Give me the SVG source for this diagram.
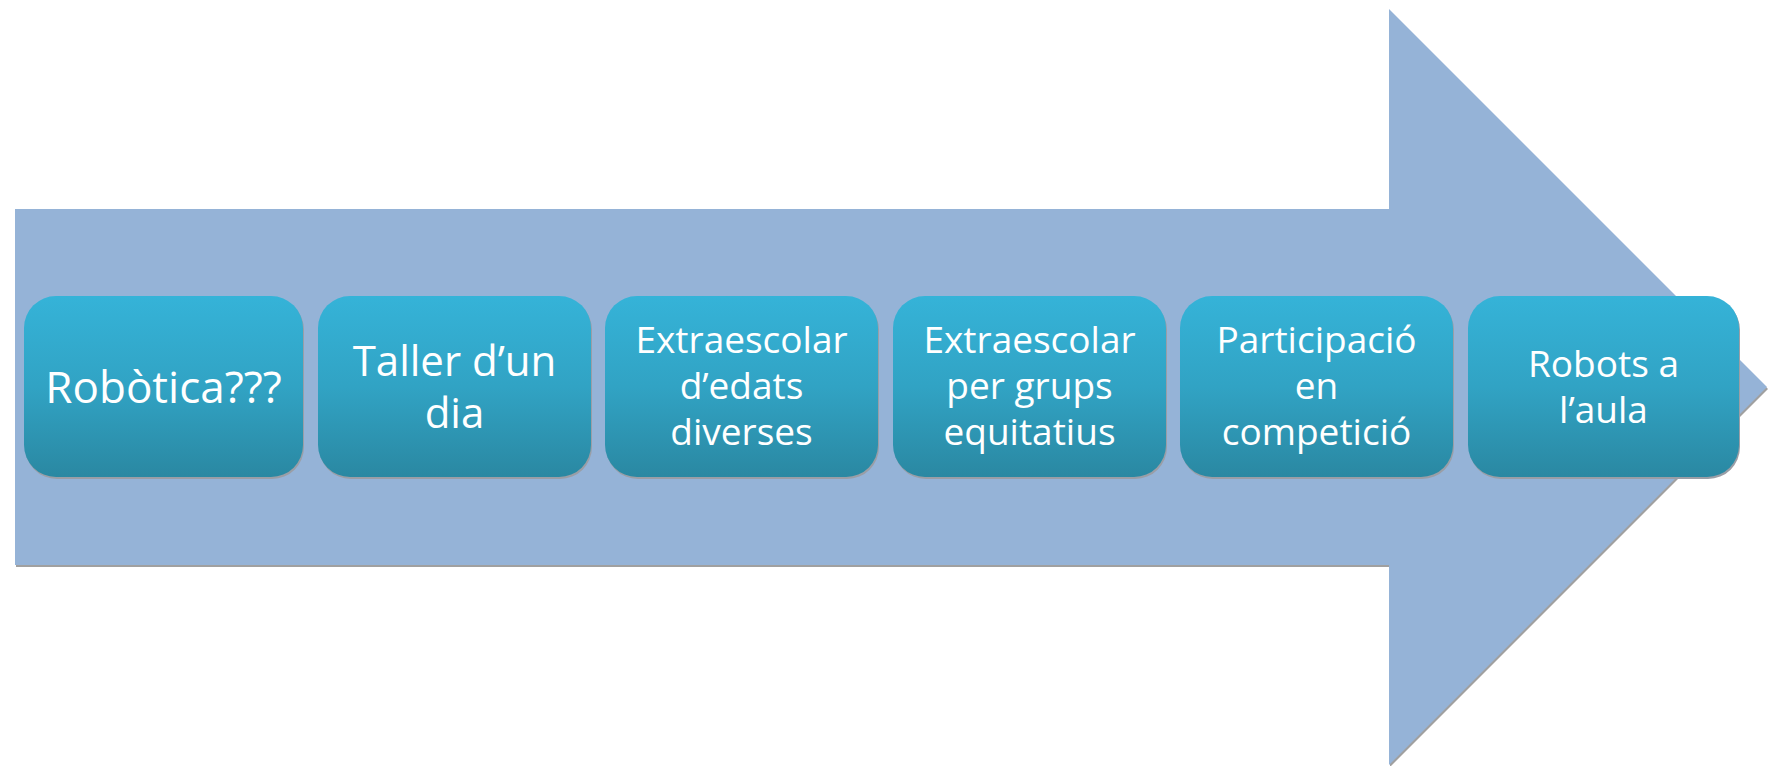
<svg xmlns="http://www.w3.org/2000/svg" width="1769" height="766" viewBox="0 0 1769 766">
<defs>
<linearGradient id="bg" x1="0" y1="0" x2="0" y2="1">
<stop offset="0" stop-color="#35B3D8"/>
<stop offset="0.5" stop-color="#31A3C4"/>
<stop offset="1" stop-color="#2A88A2"/>
</linearGradient>
</defs>
<style>
.box{fill:url(#bg);}
.sh{fill:#9a9ea6;}
.t{font-family:"Open Sans","Liberation Sans",sans-serif;fill:#ffffff;text-anchor:middle;}
.l{font-size:44px;}
.m{font-size:42px;}
.s{font-size:37px;}
</style>
<g id="arrow">
<polygon points="16,211 1390,211 1390,11 1768,389 1390,767 1390,567 16,567" fill="#a0a0a0"/>
<polygon points="15,209 1389,209 1389,9 1767,387 1389,765 1389,565 15,565" fill="#95B3D7"/>
</g>
<g id="connectors"/>
<g id="n1">
<rect class="sh" x="25" y="298" width="279" height="181" rx="32"/>
<rect class="box" x="24" y="296" width="279" height="181" rx="32"/>
<text class="t l" x="163.5" y="403">Robòtica???</text>
</g>
<g id="n2">
<rect class="sh" x="319" y="298" width="273" height="181" rx="32"/>
<rect class="box" x="318" y="296" width="273" height="181" rx="32"/>
<text class="t m" x="454.5" y="376">Taller d’un</text>
<text class="t m" x="454.5" y="428">dia</text>
</g>
<g id="n3">
<rect class="sh" x="606" y="298" width="273" height="181" rx="32"/>
<rect class="box" x="605" y="296" width="273" height="181" rx="32"/>
<text class="t s" x="741.5" y="353">Extraescolar</text>
<text class="t s" x="741.5" y="399">d’edats</text>
<text class="t s" x="741.5" y="445">diverses</text>
</g>
<g id="n4">
<rect class="sh" x="894" y="298" width="273" height="181" rx="32"/>
<rect class="box" x="893" y="296" width="273" height="181" rx="32"/>
<text class="t s" x="1029.5" y="353">Extraescolar</text>
<text class="t s" x="1029.5" y="399">per grups</text>
<text class="t s" x="1029.5" y="445">equitatius</text>
</g>
<g id="n5">
<rect class="sh" x="1181" y="298" width="273" height="181" rx="32"/>
<rect class="box" x="1180" y="296" width="273" height="181" rx="32"/>
<text class="t s" x="1316.5" y="353">Participació</text>
<text class="t s" x="1316.5" y="399">en</text>
<text class="t s" x="1316.5" y="445">competició</text>
</g>
<g id="n6">
<rect class="sh" x="1469" y="298" width="271" height="181" rx="32"/>
<rect class="box" x="1468" y="296" width="271" height="181" rx="32"/>
<text class="t s" x="1603.5" y="377">Robots a</text>
<text class="t s" x="1603.5" y="423">l’aula</text>
</g>
</svg>
